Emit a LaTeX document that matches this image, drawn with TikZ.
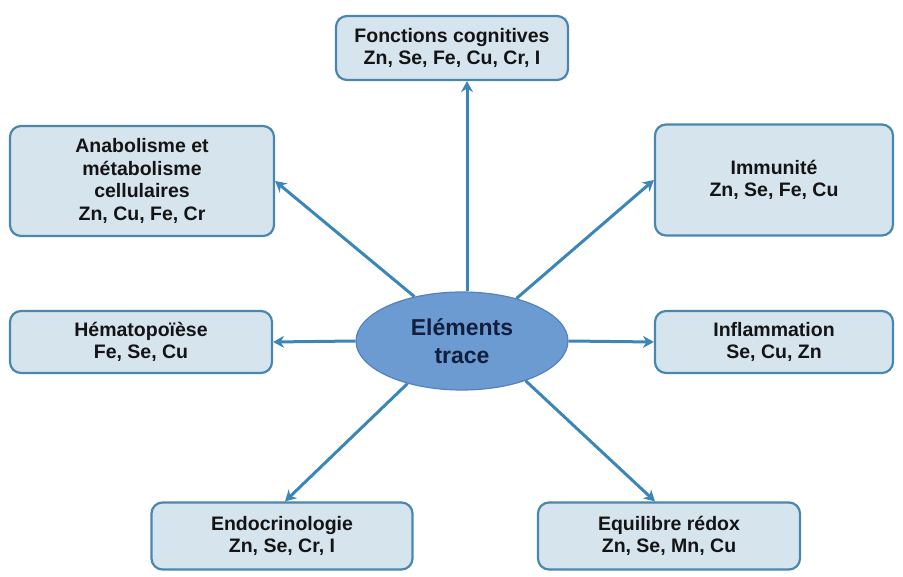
\documentclass[tikz,border=0pt]{standalone}
\usepackage{fontspec}
\setmainfont{Liberation Sans}
\usetikzlibrary{arrows.meta,shapes.geometric}
\definecolor{boxfill}{HTML}{D6E4EE}
\definecolor{boxline}{HTML}{4A87AE}
\definecolor{arrowcol}{HTML}{3A86B8}
\definecolor{ellfill}{HTML}{6C9BD2}
\definecolor{ellline}{HTML}{5582BE}
\definecolor{txt}{HTML}{141414}
\definecolor{elltxt}{HTML}{0F1F3D}
\begin{document}
\begin{tikzpicture}[x=1pt,y=-1pt,
  box/.style={draw=boxline,line width=2.2pt,fill=boxfill,rounded corners=11pt,
    minimum width=#1,align=center,text=txt,inner sep=0pt,
    font=\fontsize{19.5}{22.5}\selectfont\bfseries},
  arr/.style={draw=arrowcol,line width=3pt,-{Stealth[length=11pt,width=12pt]}}]
\useasboundingbox (0,0) rectangle (903,577);
\node[box=232pt,minimum height=64pt] (cog) at (452,48) {Fonctions cognitives\\Zn, Se, Fe, Cu, Cr, I};
\node[box=264pt,minimum height=110pt] (ana) at (142,181) {Anabolisme et\\métabolisme\\cellulaires\\Zn, Cu, Fe, Cr};
\node[box=238pt,minimum height=111pt] (imm) at (774,180) {Immunité\\Zn, Se, Fe, Cu};
\node[box=262pt,minimum height=62pt] (hem) at (141,342) {Hématopoïèse\\Fe, Se, Cu};
\node[box=238pt,minimum height=62pt] (inf) at (774,342) {Inflammation\\Se, Cu, Zn};
\node[box=261pt,minimum height=67pt] (endo) at (282,536) {Endocrinologie\\Zn, Se, Cr, I};
\node[box=262pt,minimum height=67pt] (equ) at (669,536) {Equilibre rédox\\Zn, Se, Mn, Cu};
\node[ellipse,draw=ellline,line width=1.2pt,fill=ellfill,minimum width=212pt,minimum height=98pt,
  inner sep=0pt,align=center,text=elltxt,font=\fontsize{23}{28}\selectfont\bfseries] (el) at (462,341) {Eléments\\trace};
\draw[arr] ([xshift=5pt]el.north) -- ([xshift=5pt]el.north |- cog.south);
\draw[arr] (el.137) -- (ana.east);
\draw[arr] (el.38) -- (imm.west);
\draw[arr] (el.west) -- (hem.east);
\draw[arr] (el.east) -- (inf.west);
\draw[arr] (el.218) -- ([xshift=3pt]endo.north);
\draw[arr] (el.328) -- ([xshift=-14pt]equ.north);
\end{tikzpicture}
\end{document}
